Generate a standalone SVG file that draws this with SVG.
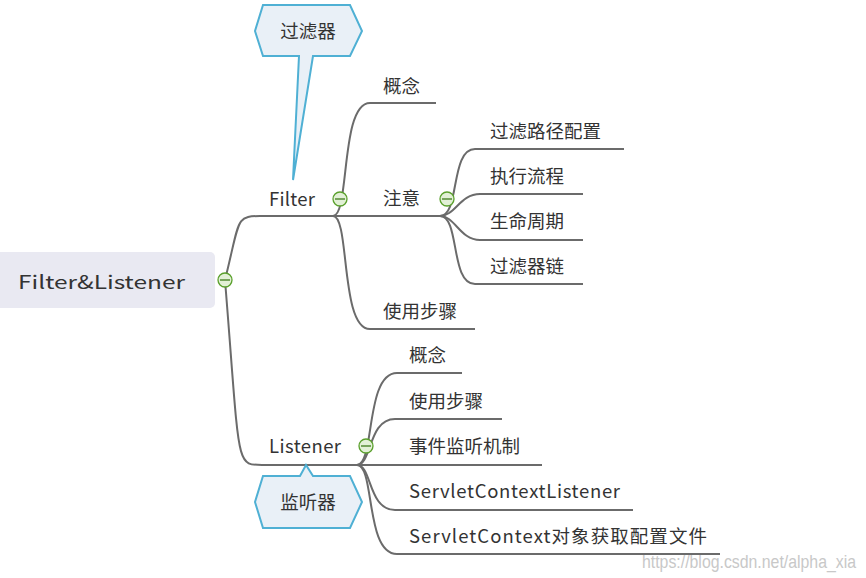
<svg xmlns="http://www.w3.org/2000/svg" width="866" height="578" viewBox="0 0 866 578">
<style>
text{font-family:"Noto Sans CJK SC","Noto Sans",sans-serif;fill:#333;font-size:18.5px}
.c path{fill:none;stroke:#6b6b6b;stroke-width:2}
.tg{fill:#e2f0d6;stroke:#5aa02c;stroke-width:1.3}
.tg2{stroke:#3d7a1a;stroke-width:1.3}
.co{fill:#e9f0f7;stroke:#4fb0d4;stroke-width:2}
</style>
<rect width="866" height="578" fill="#fff"/>
<g class="c" id="connectors">
<path d="M225 280 C240 220 235 216 260 216 H333"/>
<path d="M225 280 C240 465 235 465 262 465 H357"/>
<path d="M333 216 C350 216 340 103 370 103 H436"/>
<path d="M333 216 H440"/>
<path d="M333 216 C350 216 340 329 370 329 H475"/>
<path d="M440 216 C460 216 450 149 475 149 H624"/>
<path d="M440 216 C455 216 460 194 480 194 H583"/>
<path d="M440 216 C455 216 460 240 480 240 H583"/>
<path d="M440 216 C460 216 450 284 475 284 H583"/>
<path d="M357 465 C375 465 365 373 397 373 H462"/>
<path d="M357 465 C372 465 368 419 395 419 H502"/>
<path d="M357 465 H542"/>
<path d="M357 465 C372 465 368 510 395 510 H633"/>
<path d="M357 465 C375 465 365 554 397 554 H720"/>
</g>
<g id="root">
<rect x="-6" y="252" width="221" height="56" rx="5" fill="#e9e9f2"/>
<text x="18" y="289" font-size="24" textLength="167" lengthAdjust="spacingAndGlyphs">Filter&amp;Listener</text>
</g>
<g id="toggles">
<circle class="tg" cx="225" cy="280" r="7"/><path class="tg2" d="M220 280h10"/>
<circle class="tg" cx="340" cy="199" r="7"/><path class="tg2" d="M335 199h10"/>
<circle class="tg" cx="447" cy="199" r="7"/><path class="tg2" d="M442 199h10"/>
<circle class="tg" cx="366" cy="446" r="7"/><path class="tg2" d="M361 446h10"/>
</g>
<g id="filter"><text x="269" y="206" textLength="46">Filter</text></g>
<g id="f1"><text x="383" y="93">概念</text></g>
<g id="f2"><text x="383" y="205">注意</text></g>
<g id="f3"><text x="383" y="318">使用步骤</text></g>
<g id="n1"><text x="490" y="138">过滤路径配置</text></g>
<g id="n2"><text x="490" y="183">执行流程</text></g>
<g id="n3"><text x="490" y="228">生命周期</text></g>
<g id="n4"><text x="490" y="273">过滤器链</text></g>
<g id="listener"><text x="269" y="453" textLength="72">Listener</text></g>
<g id="l1"><text x="409" y="362">概念</text></g>
<g id="l2"><text x="409" y="408">使用步骤</text></g>
<g id="l3"><text x="409" y="453">事件监听机制</text></g>
<g id="l4"><text x="409" y="498" textLength="211">ServletContextListener</text></g>
<g id="l5"><text x="409" y="543" textLength="298">ServletContext对象获取配置文件</text></g>
<g id="callout1">
<path class="co" d="M263 5H350L362 31L350 56H313L293 180L299 56H263L255 31Z"/>
<text x="308" y="38" text-anchor="middle">过滤器</text>
</g>
<g id="callout2">
<path class="co" d="M263 476H300L306 465L313 476H350L362 502L350 528H263L255 502Z"/>
<text x="308" y="509" text-anchor="middle">监听器</text>
</g>
<text x="642" y="568" font-size="12.5" textLength="214" lengthAdjust="spacingAndGlyphs" style="fill:#c8c8c8;font-family:'Liberation Sans',sans-serif">https://blog.csdn.net/alpha_xia</text>
</svg>
